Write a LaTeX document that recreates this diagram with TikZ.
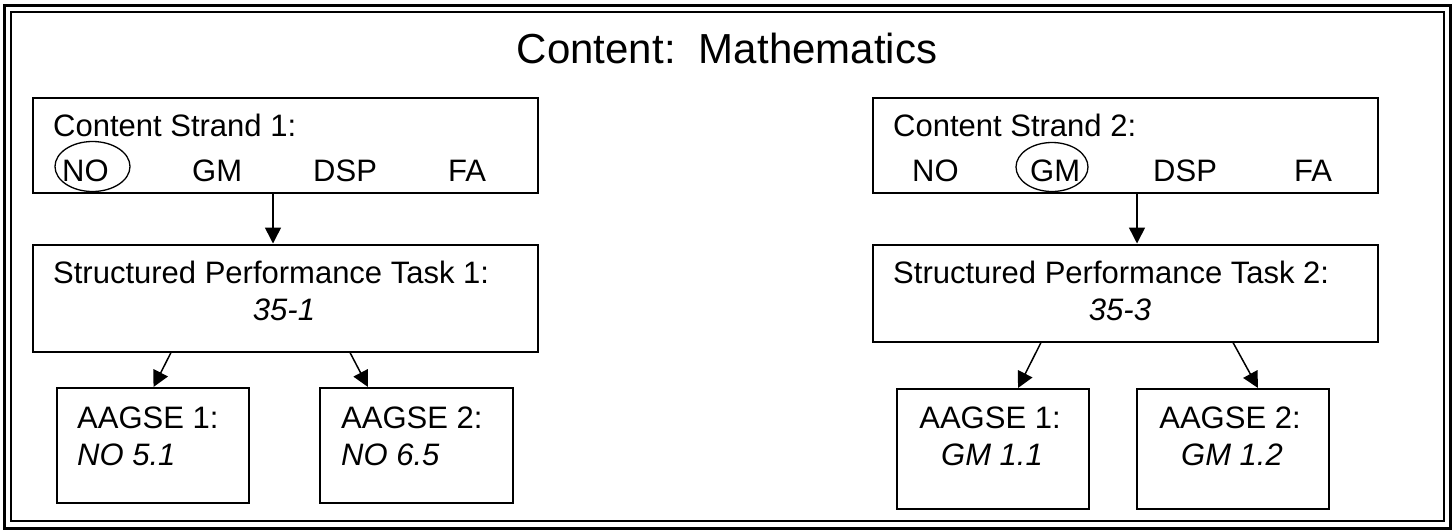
\documentclass[tikz,border=0pt]{standalone}
\usepackage{fontspec}
\setmainfont{Liberation Sans}
\usetikzlibrary{arrows.meta,shapes.geometric}
\begin{document}
\begin{tikzpicture}[x=1pt,y=-1pt,
  box/.style={draw,line width=2pt,rectangle,anchor=north west,inner sep=0pt},
  txt/.style={inner sep=0pt,font=\fontsize{31}{37}\selectfont},
  itxt/.style={inner sep=0pt,font=\fontsize{31}{37}\selectfont\itshape},
  oval/.style={draw,line width=1.3pt,ellipse,inner sep=0pt},
  arr/.style={line width=1.5pt,-{Triangle[length=16pt,width=16pt]}}]
\useasboundingbox (0,0) rectangle (1455,531);
% frame
\draw[line width=3pt] (4.5,5) rectangle (1450.5,528.5);
\draw[line width=1.5pt] (11,12) rectangle (1444,521);
% title
\node[inner sep=0pt,anchor=base,font=\fontsize{42}{50}\selectfont] (title) at (727,63) {Content:\ \ Mathematics};
% left column
\node[box,minimum width=505pt,minimum height=95pt] (s1) at (32,97) {};
\node[txt,anchor=base west] (s1t) at (53,136) {Content Strand 1:};
\node[oval,minimum width=75pt,minimum height=50pt] (e1) at (92.5,166.5) {};
\node[txt,anchor=base west] (s1a) at (62,181) {NO};
\node[txt,anchor=base west] (s1b) at (192,181) {GM};
\node[txt,anchor=base west] (s1c) at (313,181) {DSP};
\node[txt,anchor=base west] (s1d) at (448,181) {FA};
\node[box,minimum width=505pt,minimum height=107pt] (p1) at (32,243.5) {};
\node[txt,anchor=base west] (p1t) at (53,283) {Structured Performance Task 1:};
\node[itxt,anchor=base] (p1n) at (284,320) {35-1};
\node[box,minimum width=192pt,minimum height=115pt] (q1) at (56,387) {};
\node[txt,anchor=base west] (q1t) at (77,428) {AAGSE 1:};
\node[itxt,anchor=base west] (q1n) at (77,465) {NO 5.1};
\node[box,minimum width=193pt,minimum height=115pt] (q2) at (319,387) {};
\node[txt,anchor=base west] (q2t) at (341,428) {AAGSE 2:};
\node[itxt,anchor=base west] (q2n) at (341,465) {NO 6.5};
% right column
\node[box,minimum width=505pt,minimum height=95pt] (s2) at (872,97) {};
\node[txt,anchor=base west] (s2t) at (893,136) {Content Strand 2:};
\node[oval,minimum width=72pt,minimum height=49pt] (e2) at (1052,167) {};
\node[txt,anchor=base west] (s2a) at (912,181) {NO};
\node[txt,anchor=base west] (s2b) at (1030,181) {GM};
\node[txt,anchor=base west] (s2c) at (1153,181) {DSP};
\node[txt,anchor=base west] (s2d) at (1294,181) {FA};
\node[box,minimum width=505pt,minimum height=97pt] (p2) at (872,243.5) {};
\node[txt,anchor=base west] (p2t) at (893,283) {Structured Performance Task 2:};
\node[itxt,anchor=base] (p2n) at (1120,320) {35-3};
\node[box,minimum width=192pt,minimum height=120pt] (r1) at (896,388) {};
\node[txt,anchor=base] (r1t) at (990,428) {AAGSE 1:};
\node[itxt,anchor=base] (r1n) at (992,465) {GM 1.1};
\node[box,minimum width=192pt,minimum height=120pt] (r2) at (1136,388) {};
\node[txt,anchor=base] (r2t) at (1230,428) {AAGSE 2:};
\node[itxt,anchor=base] (r2n) at (1232,465) {GM 1.2};
% connectors
\draw[arr] ([xshift=-12.5pt]s1.south) -- ([xshift=-12.5pt]p1.north);
\draw[arr] ([xshift=-114.5pt]p1.south) -- ([xshift=0.5pt]q1.north);
\draw[arr] ([xshift=64.5pt]p1.south) -- ([xshift=-48.5pt]q2.north);
\draw[arr] ([xshift=11.5pt]s2.south) -- ([xshift=11.5pt]p2.north);
\draw[arr] ([xshift=-84.5pt]p2.south) -- ([xshift=25pt]r1.north);
\draw[arr] ([xshift=107.5pt]p2.south) -- ([xshift=25pt]r2.north);
\end{tikzpicture}
\end{document}
